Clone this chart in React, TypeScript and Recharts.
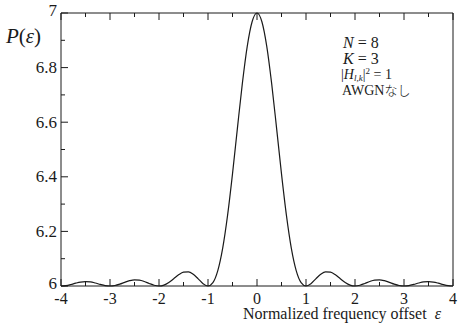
import React from "react";
import { LineChart, Line, XAxis, YAxis } from "recharts";

// normalized frequency offset ε, sampled every 0.1
const offsets = [
  -4, -3.9, -3.8, -3.7, -3.6, -3.5, -3.4, -3.3, -3.2, -3.1,
  -3, -2.9, -2.8, -2.7, -2.6, -2.5, -2.4, -2.3, -2.2, -2.1,
  -2, -1.9, -1.8, -1.7, -1.6, -1.5, -1.4, -1.3, -1.2, -1.1,
  -1, -0.9, -0.8, -0.7, -0.6, -0.5, -0.4, -0.3, -0.2, -0.1,
  0,
  0.1, 0.2, 0.3, 0.4, 0.5, 0.6, 0.7, 0.8, 0.9, 1,
  1.1, 1.2, 1.3, 1.4, 1.5, 1.6, 1.7, 1.8, 1.9, 2,
  2.1, 2.2, 2.3, 2.4, 2.5, 2.6, 2.7, 2.8, 2.9, 3,
  3.1, 3.2, 3.3, 3.4, 3.5, 3.6, 3.7, 3.8, 3.9, 4,
];

// P(ε)
const power = [
  6, 6.0015, 6.0054, 6.0104, 6.0145, 6.0162, 6.015, 6.011, 6.006, 6.0017,
  6, 6.0018, 6.0068, 6.0134, 6.0194, 6.0226, 6.0216, 6.0166, 6.0093, 6.0028,
  6, 6.0032, 6.0128, 6.0267, 6.0409, 6.0506, 6.0518, 6.0428, 6.0262, 6.0085,
  6, 6.0125, 6.0565, 6.1388, 6.2594, 6.4105, 6.5776, 6.7403, 6.877, 6.9679,
  7,
  6.9679, 6.877, 6.7403, 6.5776, 6.4105, 6.2594, 6.1388, 6.0565, 6.0125, 6,
  6.0085, 6.0262, 6.0428, 6.0518, 6.0506, 6.0409, 6.0267, 6.0128, 6.0032, 6,
  6.0028, 6.0093, 6.0166, 6.0216, 6.0226, 6.0194, 6.0134, 6.0068, 6.0018, 6,
  6.0017, 6.006, 6.011, 6.015, 6.0162, 6.0145, 6.0104, 6.0054, 6.0015, 6,
];

const xTicks = [-4, -3.5, -3, -2.5, -2, -1.5, -1, -0.5, 0, 0.5, 1, 1.5, 2, 2.5, 3, 3.5, 4];
const yTicks = [6, 6.1, 6.2, 6.3, 6.4, 6.5, 6.6, 6.7, 6.8, 6.9, 7];
const yLabels = ["6", "6.2", "6.4", "6.6", "6.8", "7"];

const data = offsets.map((x, i) => ({ x, p: power[i] }));

const SERIF =
  "'Liberation Serif', 'Times New Roman', Tinos, Times, 'DejaVu Serif', 'Noto Serif', FreeSerif, serif";
const INK = "#1a1a1a";

const isMajorX = (v: number) => Number.isInteger(v);
const yLabelOf = (v: number) => {
  const s = Number.isInteger(v) ? String(v) : v.toFixed(1);
  return yLabels.includes(s) ? s : null;
};

function BottomTick({ x, y, payload }: any) {
  const v = payload.value;
  const major = isMajorX(v);
  return (
    <g>
      <line x1={x} y1={y} x2={x} y2={y - (major ? 7 : 4)} stroke={INK} />
      {major && (
        <text x={x} y={y + 12} textAnchor="middle" dominantBaseline="central"
          fontFamily={SERIF} fontSize={16} fill={INK}>
          {v}
        </text>
      )}
    </g>
  );
}

function TopTick({ x, y, payload }: any) {
  const major = isMajorX(payload.value);
  return <line x1={x} y1={y} x2={x} y2={y + (major ? 7 : 4)} stroke={INK} />;
}

function LeftTick({ x, y, payload }: any) {
  const label = yLabelOf(payload.value);
  // the end labels sit a touch off their ticks, as in the figure
  const dy = label === "7" ? -3 : label === "6" ? -3 : 0;
  return (
    <g>
      <line x1={x} y1={y} x2={x + (label ? 7 : 4)} y2={y} stroke={INK} />
      {label && (
        <text x={x - 4} y={y + dy} textAnchor="end" dominantBaseline="central"
          fontFamily={SERIF} fontSize={17} fill={INK}>
          {label}
        </text>
      )}
    </g>
  );
}

function RightTick({ x, y, payload }: any) {
  const major = yLabelOf(payload.value) !== null;
  return <line x1={x} y1={y} x2={x - (major ? 7 : 4)} y2={y} stroke={INK} />;
}

const txt: React.CSSProperties = {
  position: "absolute",
  fontFamily: SERIF,
  color: INK,
  whiteSpace: "nowrap",
  lineHeight: 1,
};

export default function App() {
  return (
    <div style={{ position: "absolute", left: 0, top: 0, width: 458, height: 324, background: "#fff" }}>
      <LineChart width={458} height={324} data={data} margin={{ top: 0, right: 0, bottom: 0, left: 0 }}>
        <XAxis dataKey="x" type="number" domain={[-4, 4]} ticks={xTicks} height={38}
          tickSize={0} tickMargin={0} tickLine={false} axisLine={{ stroke: INK }}
          tick={<BottomTick />} interval={0} />
        <XAxis xAxisId="top" orientation="top" dataKey="x" type="number" domain={[-4, 4]} ticks={xTicks}
          height={13} tickSize={0} tickMargin={0} tickLine={false} axisLine={{ stroke: INK }}
          tick={<TopTick />} interval={0} />
        <YAxis type="number" domain={[6, 7]} ticks={yTicks} width={61}
          tickSize={0} tickMargin={0} tickLine={false} axisLine={{ stroke: INK }}
          tick={<LeftTick />} interval={0} />
        <YAxis yAxisId="right" orientation="right" type="number" domain={[6, 7]} ticks={yTicks} width={5}
          tickSize={0} tickMargin={0} tickLine={false} axisLine={{ stroke: INK }}
          tick={<RightTick />} interval={0} />
        <Line dataKey="p" type="monotone" stroke={INK} strokeWidth={1.2} dot={false}
          isAnimationActive={false} />
      </LineChart>

      <div style={{ ...txt, left: 6, top: 26, fontSize: 21 }}>
        <i>P</i>(<i>ε</i>)
      </div>

      <div style={{ ...txt, left: 343, top: 35, fontSize: 16 }}>
        <i>N</i>&nbsp;=&nbsp;8
      </div>
      <div style={{ ...txt, left: 343, top: 51, fontSize: 16 }}>
        <i>K</i>&nbsp;=&nbsp;3
      </div>
      <div style={{ ...txt, left: 341, top: 67, fontSize: 14 }}>
        |<i>H</i>
        <span style={{ fontSize: 9, fontStyle: "italic", verticalAlign: -2 }}>l,k</span>|
        <span style={{ fontSize: 9, verticalAlign: 5 }}>2</span>&nbsp;=&nbsp;1
      </div>
      <div style={{ ...txt, left: 342, top: 83, fontSize: 14 }}>
        AWGN
        <span style={{ fontFamily: "'Noto Sans CJK JP', sans-serif", fontWeight: 300, fontSize: 13 }}>なし</span>
      </div>

      <div style={{ ...txt, left: 243, top: 306, fontSize: 16 }}>
        Normalized frequency offset&nbsp;&nbsp;<i>ε</i>
      </div>
    </div>
  );
}
